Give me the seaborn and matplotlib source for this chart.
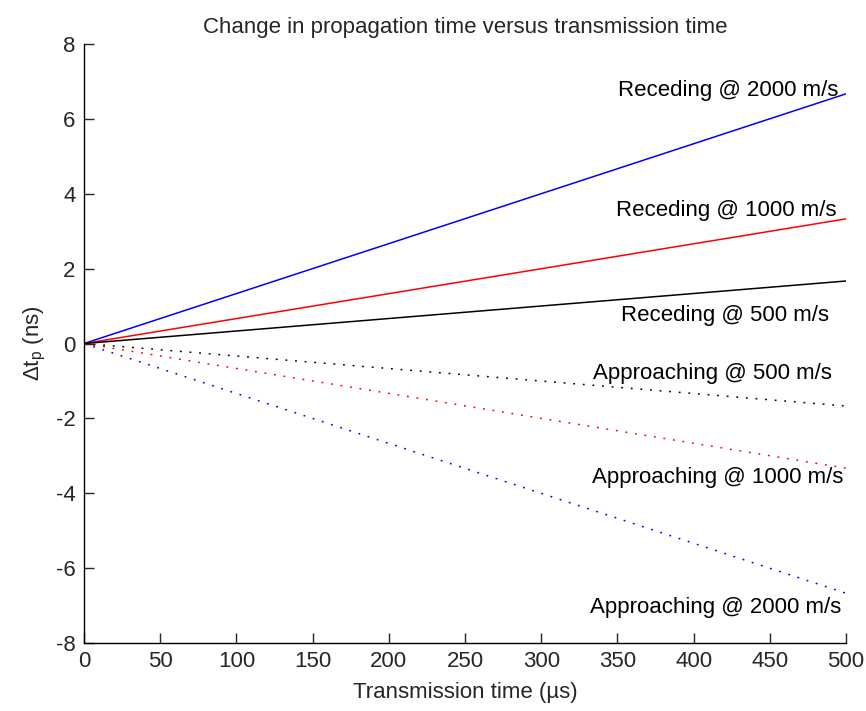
import matplotlib
matplotlib.use("Agg")
import matplotlib.pyplot as plt
import seaborn as sns
import pandas as pd

sns.set_style("white")
plt.rcParams['font.family'] = ['Liberation Sans', 'DejaVu Sans']
plt.rcParams['mathtext.default'] = 'regular'
plt.rcParams['axes.unicode_minus'] = False

# Transmission time endpoints (µs) and propagation-time change at those times (ns)
t_us = [0, 500]
labels = ["Receding @ 2000 m/s", "Receding @ 1000 m/s", "Receding @ 500 m/s",
          "Approaching @ 500 m/s", "Approaching @ 1000 m/s", "Approaching @ 2000 m/s"]
dt_end_ns = [6.67, 3.33, 1.67, -1.67, -3.33, -6.67]
colors = ["#0000ff", "#ff0000", "#000000", "#000000", "#ff0000", "#0000ff"]
styles = ["-", "-", "-", (0, (1.2, 5.1)), (0, (1.2, 5.1)), (0, (1.2, 5.1))]
# Label anchor (right edge x, centre y) in data units
label_x = [495, 494, 489, 491, 498, 497]
label_y = [6.77, 3.55, 0.76, -0.79, -3.59, -7.04]

rows = []
for name, end in zip(labels, dt_end_ns):
    for t, v in zip(t_us, [0.0, end]):
        rows.append({"series": name, "t": t, "dt": v})
df = pd.DataFrame(rows)

fig = plt.figure(figsize=(8.66, 7.11), dpi=100)
ax = fig.add_axes([0.097, 0.0956, 0.88, 0.8425])

for name, c, ls in zip(labels, colors, styles):
    sub = df[df["series"] == name]
    sns.lineplot(data=sub, x="t", y="dt", color=c, linestyle=ls, linewidth=1.1, ax=ax,
                 legend=False)

for name, x, y in zip(labels, label_x, label_y):
    ax.text(x, y, name, ha="right", va="center", fontsize=16, color="black")

ax.set_xlim(0, 500)
ax.set_ylim(-8, 8)
ax.set_xticks(range(0, 501, 50))
ax.set_yticks(range(-8, 9, 2))
ax.tick_params(direction="in", length=7, width=1, labelsize=16, pad=6,
               left=True, bottom=True, top=False, right=False)
for side in ["top", "right"]:
    ax.spines[side].set_visible(False)
for side in ["left", "bottom"]:
    ax.spines[side].set_color("black")
    ax.spines[side].set_linewidth(1)

ax.set_xlabel("Transmission time (µs)", fontsize=16, labelpad=7)
ax.set_ylabel(r"$\Delta t_p$ (ns)", fontsize=16, labelpad=6)
ax.set_title("Change in propagation time versus transmission time", fontsize=16, pad=8)

fig.savefig("out.png", dpi=100, facecolor="white")
